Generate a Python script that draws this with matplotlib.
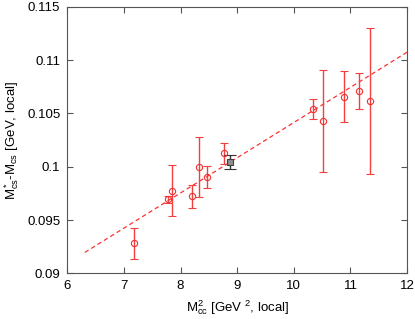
import matplotlib
matplotlib.use("Agg")
import matplotlib.pyplot as plt
import numpy as np

# data
x_red = [7.18, 7.78, 7.85, 8.21, 8.33, 8.47, 8.76, 10.34, 10.52, 10.88, 11.15, 11.34]
y_red = [0.09282, 0.09694, 0.09775, 0.09722, 0.1000, 0.09903, 0.10126,
         0.10541, 0.10426, 0.10656, 0.10713, 0.10616]
err_red = [0.00145, 0.0003, 0.0024, 0.00106, 0.0028, 0.00105, 0.001,
           0.00094, 0.0048, 0.0024, 0.0017, 0.0068]

x_blk = [8.87]
y_blk = [0.10044]
err_blk = [0.00065]

fit_x = [6.31, 12.0]
fit_slope = 0.0033
fit_icpt = 0.07114

x_ticks = [6, 7, 8, 9, 10, 11, 12]
y_ticks = [0.09, 0.095, 0.1, 0.105, 0.11, 0.115]
y_ticklabels = ["0.09", "0.095", "0.1", "0.105", "0.11", "0.115"]

plt.rcParams['font.family'] = ['Liberation Sans', 'DejaVu Sans']
plt.rcParams['mathtext.fontset'] = 'custom'
plt.rcParams['mathtext.rm'] = 'Liberation Sans'
plt.rcParams['mathtext.it'] = 'Liberation Sans:italic'

fig = plt.figure(figsize=(4.15, 3.19), dpi=100)
ax = fig.add_axes([0.162, 0.143, 0.819, 0.836])

fx = np.array(fit_x)
ax.plot(fx, fit_icpt + fit_slope * fx, color="#ff3030", lw=0.9, dashes=(3.5, 2.5))

ax.errorbar(x_red, y_red, yerr=err_red, fmt="o", mfc="none", mec="#f03030",
            ms=4.5, mew=0.8, ecolor="#f04040", elinewidth=1.0, capsize=3, capthick=1.0)
ax.errorbar(x_blk, y_blk, yerr=err_blk, fmt="s", mfc="#909090", mec="#404040",
            ms=4, mew=0.8, ecolor="#333333", elinewidth=1.0, capsize=4.5, capthick=1.0)

ax.set_xlim(6, 12)
ax.set_ylim(0.09, 0.115)
ax.set_xticks(x_ticks)
ax.set_yticks(y_ticks)
ax.set_yticklabels(y_ticklabels)
ax.tick_params(direction="in", top=True, right=True, length=4, labelsize=9.5,
               color="#555555", pad=5)
for sp in ax.spines.values():
    sp.set_color("#555555")

ax.set_xlabel(r"M$^2_{\mathrm{cc}}$ [GeV $^2$, local]", fontsize=9.5)
ax.set_ylabel(r"M$^*_{\mathrm{cs}}$-M$_{\mathrm{cs}}$ [GeV, local]", fontsize=9.5)

fig.savefig("out.png", dpi=100)
